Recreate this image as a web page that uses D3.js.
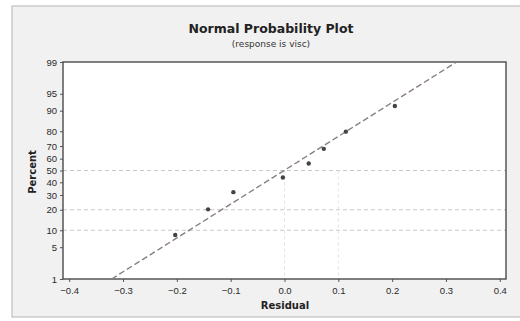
<!DOCTYPE html>
<html><head><meta charset="utf-8">
<script src="https://cdn.jsdelivr.net/npm/d3@7"></script>
<style>html,body{margin:0;padding:0;background:#fff;}svg{display:block;font-family:"DejaVu Sans",Verdana,sans-serif;}</style>
</head><body>
<svg id="c" width="520" height="321"></svg>
<script>
const residuals = [-0.203, -0.142, -0.095, -0.003, 0.045, 0.073, 0.114, 0.205];
const xTicks = [-0.4, -0.3, -0.2, -0.1, 0.0, 0.1, 0.2, 0.3, 0.4];
const yTicks = [1, 5, 10, 20, 30, 40, 50, 60, 70, 80, 90, 95, 99];
const yGrid = [10, 20, 50];
const xGrid = [0.0, 0.1];
const title = "Normal Probability Plot";
const subtitle = "(response is visc)";

// inverse normal CDF (Acklam)
function probit(p){
  const a=[-3.969683028665376e+01,2.209460984245205e+02,-2.759285104469687e+02,1.383577518672690e+02,-3.066479806614716e+01,2.506628277459239e+00];
  const b=[-5.447609879822406e+01,1.615858368580409e+02,-1.556989798598866e+02,6.680131188771972e+01,-1.328068155288572e+01];
  const c=[-7.784894002430293e-03,-3.223964580411365e-01,-2.400758277161838e+00,-2.549732539343734e+00,4.374664141464968e+00,2.938163982698783e+00];
  const d=[7.784695709041462e-03,3.224671290700398e-01,2.445134137142996e+00,3.754408661907416e+00];
  const pl=0.02425, ph=1-pl; let q,r;
  if(p<pl){q=Math.sqrt(-2*Math.log(p));return (((((c[0]*q+c[1])*q+c[2])*q+c[3])*q+c[4])*q+c[5])/((((d[0]*q+d[1])*q+d[2])*q+d[3])*q+1);}
  if(p>ph){q=Math.sqrt(-2*Math.log(1-p));return -(((((c[0]*q+c[1])*q+c[2])*q+c[3])*q+c[4])*q+c[5])/((((d[0]*q+d[1])*q+d[2])*q+d[3])*q+1);}
  q=p-0.5;r=q*q;return (((((a[0]*r+a[1])*r+a[2])*r+a[3])*r+a[4])*r+a[5])*q/(((((b[0]*r+b[1])*r+b[2])*r+b[3])*r+b[4])*r+1);
}

const svg = d3.select("#c");
const L=63, R=506, T=62, B=279;

// outer frame
svg.append("rect").attr("x",12).attr("y",6).attr("width",520).attr("height",311)
  .attr("fill","#f1f1f1").attr("stroke","#b5b5b5").attr("stroke-width",1);

const x = d3.scaleLinear().domain([-0.4115, 0.4115]).range([L, R]);
const zy = d3.scaleLinear().domain([probit(0.01), probit(0.99)]).range([B, T]);
const y = p => zy(probit(p/100));

svg.append("rect").attr("x",L).attr("y",T).attr("width",R-L).attr("height",B-T).attr("fill","#fff");

// gridlines
svg.append("g").selectAll("line").data(yGrid).join("line")
  .attr("x1",L).attr("x2",R).attr("y1",d=>y(d)).attr("y2",d=>y(d))
  .attr("stroke","#c8c8c8").attr("stroke-dasharray","4,3").attr("stroke-width",1);
svg.append("g").selectAll("line").data(xGrid).join("line")
  .attr("x1",d=>x(d)).attr("x2",d=>x(d)).attr("y1",y(50)).attr("y2",B)
  .attr("stroke","#e2e2e2").attr("stroke-dasharray","3,3").attr("stroke-width",1);

// axes
const xAxis = svg.append("g").attr("transform",`translate(0,${B})`)
  .call(d3.axisBottom(x).tickValues(xTicks).tickFormat(d3.format(".1f")).tickSize(3).tickSizeOuter(0));
const yAxis = svg.append("g").attr("transform",`translate(${L},0)`)
  .call(d3.axisLeft(zy).tickValues(yTicks.map(p=>probit(p/100))).tickFormat((d,i)=>yTicks[i]).tickSize(3).tickSizeOuter(0));
[xAxis,yAxis].forEach(g=>{
  g.select(".domain").remove();
  g.selectAll("line").attr("stroke","#555");
  g.selectAll("text").attr("fill","#2a2a2a").style("font-size","9.5px");
});
xAxis.selectAll("text").attr("dy","0.9em");

// plot border
svg.append("rect").attr("x",L).attr("y",T).attr("width",R-L).attr("height",B-T)
  .attr("fill","none").attr("stroke","#4a4a4a").attr("stroke-width",1.4);

// fitted line from data mean and sd
const mu = d3.mean(residuals), sd = d3.deviation(residuals);
const zLo = probit(0.01), zHi = probit(0.99);
svg.append("line")
  .attr("x1",x(mu+zLo*sd)).attr("y1",zy(zLo)).attr("x2",x(mu+zHi*sd)).attr("y2",zy(zHi))
  .attr("stroke","#8a7f7f").attr("stroke-width",1.4).attr("stroke-dasharray","6,3");

// points (Benard median ranks)
const n = residuals.length;
const sorted = residuals.slice().sort(d3.ascending);
svg.append("g").selectAll("circle").data(sorted).join("circle")
  .attr("cx",d=>x(d)).attr("cy",(d,i)=>y(100*(i+1-0.3)/(n+0.4))).attr("r",2.2)
  .attr("fill","#444");

// titles
svg.append("text").attr("x",271).attr("y",33).attr("text-anchor","middle")
  .style("font-size","12.5px").style("font-weight","bold").attr("fill","#222").text(title);
svg.append("text").attr("x",271).attr("y",47).attr("text-anchor","middle")
  .style("font-size","9px").attr("fill","#333").text(subtitle);
svg.append("text").attr("x",285).attr("y",309).attr("text-anchor","middle")
  .style("font-size","10px").style("font-weight","bold").attr("fill","#222").text("Residual");
svg.append("text").attr("transform","translate(36,172) rotate(-90)").attr("text-anchor","middle")
  .style("font-size","10px").style("font-weight","bold").attr("fill","#222").text("Percent");
</script>
</body></html>
